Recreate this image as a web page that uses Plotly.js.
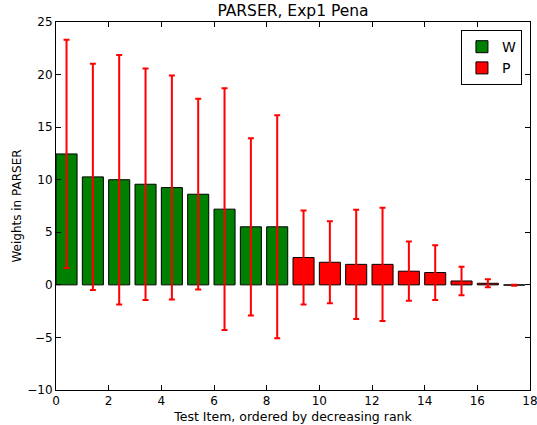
<!DOCTYPE html>
<html><head><meta charset="utf-8">
<script src="https://cdn.plot.ly/plotly-3.0.1.min.js"></script>
<style>body{margin:0;padding:0;background:#fff}#chart{width:537px;height:425px}</style>
</head><body><div id="chart"></div>
<script>
const wItems = [0,1,2,3,4,5,6,7,8];
const wValues = [12.45, 10.27, 10.0, 9.57, 9.25, 8.62, 7.2, 5.52, 5.52];
const wErrors = [10.85, 10.75, 11.86, 11.0, 10.65, 9.07, 11.5, 8.43, 10.6];
const pItems = [9,10,11,12,13,14,15,16,17];
const pValues = [2.6, 2.15, 1.95, 1.95, 1.3, 1.17, 0.37, 0.15, -0.03];
const pErrors = [4.47, 3.89, 5.19, 5.38, 2.82, 2.6, 1.36, 0.38, 0.05];
const xTicks = [0,2,4,6,8,10,12,14,16,18];
const yTicks = [-10,-5,0,5,10,15,20,25];
const barWidth = 0.8;

function mk(items, vals, errs, color, name){
  return {
    type:'bar', name:name,
    x: items.map(i => i + barWidth/2),
    y: vals, width: items.map(()=>barWidth),
    marker:{color:color, line:{color:'#000', width:1}},
    error_y:{type:'data', array:errs, visible:true, color:'#ff0000', thickness:2, width:3}
  };
}
const data = [mk(wItems,wValues,wErrors,'#008000','W'), mk(pItems,pValues,pErrors,'#ff0000','P')];
const font = {family:'DejaVu Sans', size:12, color:'#000'};
const layout = {
  width:537, height:425,
  margin:{l:56, r:7, t:22, b:35},
  paper_bgcolor:'#fff', plot_bgcolor:'#fff',
  font:font,
  barmode:'overlay',
  title:{text:'PARSER, Exp1 Pena', font:{family:'DejaVu Sans', size:15.5, color:'#000'}, x:0.5, xref:'paper', xanchor:'center', yref:'container', y:0.975, yanchor:'middle'},
  xaxis:{range:[0,18], tickmode:'array', tickvals:xTicks, ticktext:xTicks.map(String), ticklabeloverflow:'allow', showgrid:false, zeroline:false, showline:true, linecolor:'#000', linewidth:1, mirror:'ticks', ticks:'inside', ticklen:5, tickcolor:'#000',
    title:{text:'Test Item, ordered by decreasing rank', font:{family:'DejaVu Sans', size:12.5}, standoff:4}, tickfont:font},
  yaxis:{range:[-10,25], tickmode:'array', tickvals:yTicks, ticktext:yTicks.map(v => v < 0 ? '\u2212' + Math.abs(v) : String(v)), showgrid:false, zeroline:false, showline:true, linecolor:'#000', linewidth:1, mirror:'ticks', ticks:'inside', ticklen:5, tickcolor:'#000',
    title:{text:'Weights in PARSER', font:{family:'DejaVu Sans', size:12}, standoff:3}, tickfont:font},
  legend:{x:0.983, y:0.978, xanchor:'right', yanchor:'top', bordercolor:'#000', borderwidth:1, bgcolor:'#fff', font:{family:'DejaVu Sans', size:14}},
  showlegend:true
};
Plotly.newPlot('chart', data, layout, {displayModeBar:false});
</script></body></html>
